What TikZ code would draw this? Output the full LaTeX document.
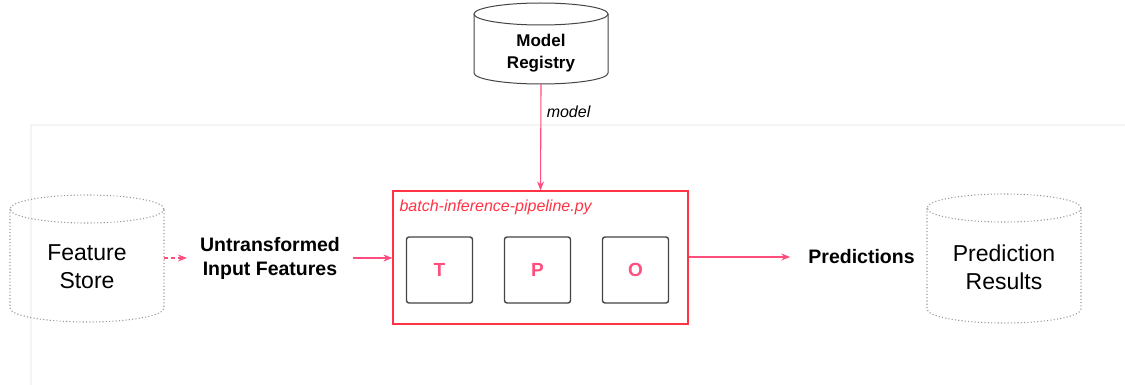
\documentclass[tikz,border=0pt]{standalone}
\usepackage{fontspec}
\setmainfont{Liberation Sans}
\usetikzlibrary{arrows.meta}
\usetikzlibrary{positioning}
\definecolor{flowpink}{RGB}{255,77,125}
\definecolor{boxred}{RGB}{255,51,68}
\definecolor{stepgray}{RGB}{68,68,68}
\definecolor{framegray}{RGB}{244,244,244}

\begin{document}
\begin{tikzpicture}[x=1pt, y=-1pt,
    flow/.style={draw=flowpink, line width=1.1pt,
      -{Stealth[length=9pt, width=7pt, inset=3pt]}},
    store/.style={draw=gray!80, line width=1.1pt, dash pattern=on 1.1pt off 2.2pt},
    stepbox/.style={draw=stepgray, line width=1.4pt, rounded corners=2.5pt,
      minimum size=66pt, inner sep=0pt, text=flowpink,
      font=\fontsize{19}{23}\selectfont\bfseries}]
  \useasboundingbox (0,0) rectangle (1125,385);
  \draw[framegray, line width=1.2pt] (31,385) -- (31,125) -- (1125,125);

  % Draw the cylinders
  \draw[store] (10,209) -- (10,308) arc (180:360:77pt and 14pt) -- (164,209);
  \draw[store] (87,209) ellipse (77pt and 14pt);
  \draw[store] (927,208) -- (927,309) arc (180:360:77pt and 14pt) -- (1081,208);
  \draw[store] (1004,208) ellipse (77pt and 14pt);
  \draw[stepgray, line width=1pt] (474,14) -- (474,73) arc (180:360:67pt and 11pt) -- (608,14);
  \draw[stepgray, line width=1pt] (541,14) ellipse (67pt and 11pt);

  \node[align=center, minimum width=134pt, minimum height=62pt, inner sep=0pt,
        font=\fontsize{17}{22}\selectfont\bfseries] (registry) at (541,53) {Model\\Registry};
  \node[align=center, minimum width=154pt, minimum height=110pt, inner sep=0pt,
        font=\fontsize{23}{28}\selectfont] (featstore) at (87,267) {Feature\\Store};
  \node[align=center, minimum width=154pt, minimum height=110pt, inner sep=0pt,
        font=\fontsize{23}{28}\selectfont] (predresults) at (1004,267) {Prediction\\Results};

  \node[align=center, inner xsep=13pt,
        font=\fontsize{19.5}{24}\selectfont\bfseries] (untransf) at (270,258) {Untransformed\\Input Features};
  \node[inner xsep=18pt, font=\fontsize{19.5}{24}\selectfont\bfseries] (preds) at (861.5,257) {Predictions};

  % the pipeline and its steps
  \node[draw=boxred, line width=1.2pt, minimum width=295pt, minimum height=133pt] (pipeline) at (540.5,257.5) {};
  \node[below right=9pt and 7pt of pipeline.north west, inner sep=0pt, text=boxred,
        font=\fontsize{16}{19}\selectfont\itshape] (pyfile) {batch-inference-pipeline.py};
  \node[stepbox] (tstep) at (439.5,270) {T};
  \node[stepbox] (pstep) at (537.5,270) {P};
  \node[stepbox] (ostep) at (635.5,270) {O};

  % Draw the edges
  \draw[flow, dash pattern=on 4pt off 3pt] (featstore.east |- untransf) -- (untransf.west);
  \draw[flow] (untransf.east) -- (untransf.east -| pipeline.west);
  \draw[flow] (registry.south) -- node[right, pos=0.26, xshift=2pt,
        font=\fontsize{16}{19}\selectfont\itshape] {model} (pipeline.north);
  \draw[flow] (pipeline.east |- preds) -- (preds.west);
\end{tikzpicture}
\end{document}
